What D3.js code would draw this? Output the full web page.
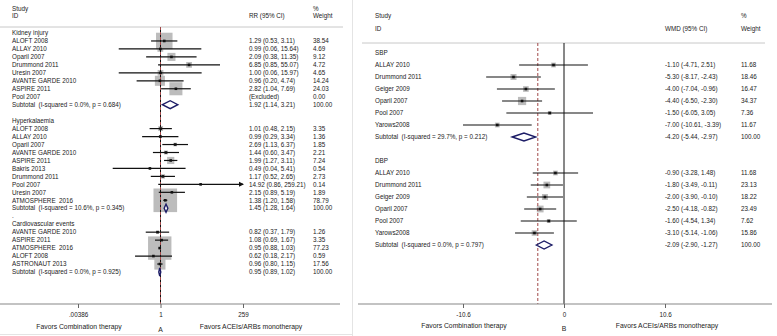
<!DOCTYPE html>
<html>
<head>
<meta charset="utf-8">
<script src="https://cdn.jsdelivr.net/npm/d3@7"></script>
<style>
body{margin:0;background:#fff}
text{font-family:"Liberation Sans",Arial,sans-serif;fill:#222;white-space:pre}
</style>
</head>
<body>
<svg id="chart" width="777" height="336"></svg>
<script>
// panel A : [study, RR, low, high, weight]
const kidneyRows = [
  ["ALOFT 2008", 1.29, 0.53, 3.11, 38.54],
  ["ALLAY 2010", 0.99, 0.06, 15.64, 4.69],
  ["Oparil 2007", 2.09, 0.38, 11.35, 9.12],
  ["Drummond 2011", 6.85, 0.85, 55.07, 4.72],
  ["Uresin 2007", 1.00, 0.06, 15.97, 4.65],
  ["AVANTE GARDE 2010", 0.96, 0.20, 4.74, 14.24],
  ["ASPIRE 2011", 2.82, 1.04, 7.69, 24.03],
  ["Pool 2007", null, null, null, 0]
]
const kidneySub = [1.92, 1.14, 3.21]
const kidneyHet = "(I-squared = 0.0%, p = 0.684)"

const hyperRows = [
  ["ALOFT 2008", 1.01, 0.48, 2.15, 3.35],
  ["ALLAY 2010", 0.99, 0.29, 3.34, 1.36],
  ["Oparil 2007", 2.69, 1.13, 6.37, 1.85],
  ["AVANTE GARDE 2010", 1.44, 0.60, 3.47, 2.21],
  ["ASPIRE 2011", 1.99, 1.27, 3.11, 7.24],
  ["Bakris 2013", 0.49, 0.04, 5.41, 0.54],
  ["Drummond 2011", 1.17, 0.52, 2.65, 2.73],
  ["Pool 2007", 14.92, 0.86, 259.21, 0.14],
  ["Uresin 2007", 2.15, 0.89, 5.19, 1.89],
  ["ATMOSPHERE  2016", 1.38, 1.20, 1.58, 78.79]
]
const hyperSub = [1.45, 1.28, 1.64]
const hyperHet = "(I-squared = 10.6%, p = 0.345)"

const cvRows = [
  ["AVANTE GARDE 2010", 0.82, 0.37, 1.79, 1.26],
  ["ASPIRE 2011", 1.08, 0.69, 1.67, 3.35],
  ["ATMOSPHERE  2016", 0.95, 0.88, 1.03, 77.23],
  ["ALOFT 2008", 0.62, 0.18, 2.17, 0.59],
  ["ASTRONAUT 2013", 0.96, 0.80, 1.15, 17.56]
]
const cvSub = [0.95, 0.89, 1.02]
const cvHet = "(I-squared = 0.0%, p = 0.925)"

const leftTicks = [0.00386, 1, 259]
const leftTickLabels = [".00386", "1", "259"]

// panel B : [study, WMD, low, high, weight]
const sbpRows = [
  ["ALLAY 2010", -1.10, -4.71, 2.51, 11.68],
  ["Drummond 2011", -5.30, -8.17, -2.43, 18.46],
  ["Geiger 2009", -4.00, -7.04, -0.96, 16.47],
  ["Oparil 2007", -4.40, -6.50, -2.30, 34.37],
  ["Pool 2007", -1.50, -6.05, 3.05, 7.36],
  ["Yarows2008", -7.00, -10.61, -3.39, 11.67]
]
const sbpSub = [-4.20, -5.44, -2.97]
const sbpHet = "(I-squared = 29.7%, p = 0.212)"

const dbpRows = [
  ["ALLAY 2010", -0.90, -3.28, 1.48, 11.68],
  ["Drummond 2011", -1.80, -3.49, -0.11, 23.13],
  ["Geiger 2009", -2.00, -3.90, -0.10, 18.22],
  ["Oparil 2007", -2.50, -4.18, -0.82, 23.49],
  ["Pool 2007", -1.60, -4.54, 1.34, 7.62],
  ["Yarows2008", -3.10, -5.14, -1.06, 15.86]
]
const dbpSub = [-2.09, -2.90, -1.27]
const dbpHet = "(I-squared = 0.0%, p = 0.797)"

const rightTicks = [-10.6, 0, 10.6]
const rightTickLabels = ["-10.6", "0", "10.6"]
const rightOverall = -2.75

const fs = 6.3
const svg = d3.select('#chart')

//turn the groups into one list of rows, top to bottom
function buildRows(groups){
  const out = []
  groups.forEach(g => {
    if (g.pre !== undefined) out.push({type:'label', label:g.pre})
    out.push({type:'label', label:g.title})
    g.rows.forEach(r => out.push({type:'study', label:r[0], est:r[1], lo:r[2], hi:r[3], w:r[4]}))
    out.push({type:'sub', label:'Subtotal  ' + g.het, est:g.sub[0], lo:g.sub[1], hi:g.sub[2], w:100})
  })
  return out
}

const fmtCI = r => r.est == null ? '(Excluded)'
  : `${r.est.toFixed(2)} (${r.lo.toFixed(2)}, ${r.hi.toFixed(2)})`

function drawPanel(p){
  const g = svg.append('g')
  const rows = p.rows.map((r, i) => ({...r, i}))
  const y = d3.scaleLinear().domain([0, rows.length - 1]).range(p.yRange)
  const x = p.x
  const [d0, d1] = x.domain()

  // header text
  const head = (tx, ty, t) => g.append('text').attr('x', tx).attr('y', ty + fs*0.35)
    .attr('font-size', fs).text(t)
  head(p.labelX, p.headY[0], 'Study')
  head(p.labelX, p.headY[1], 'ID')
  head(p.ciX, p.headY[1], p.ciTitle)
  head(p.wX, p.headY[0], '%')
  head(p.wX, p.headY[1], 'Weight')

  g.append('line').attr('x1', p.ruleX[0]).attr('x2', p.ruleX[1])
    .attr('y1', p.ruleY).attr('y2', p.ruleY)
    .attr('stroke', '#c8c8c8').attr('stroke-width', 1)

  const studies = rows.filter(r => r.type === 'study' && r.est != null)

  // weight boxes go under everything
  g.selectAll('rect.box').data(studies).join('rect')
    .attr('class', 'box')
    .attr('x', d => x(d.est) - p.k*Math.sqrt(d.w)/2)
    .attr('y', d => y(d.i) - p.k*Math.sqrt(d.w)/2)
    .attr('width', d => p.k*Math.sqrt(d.w))
    .attr('height', d => p.k*Math.sqrt(d.w))
    .attr('fill', '#bcbcbc')

  // null line and overall dashed line
  g.append('line').attr('x1', x(p.nullValue)).attr('x2', x(p.nullValue))
    .attr('y1', p.ruleY).attr('y2', p.axisY).attr('stroke', '#111').attr('stroke-width', 1)
  g.append('line').attr('x1', x(p.overall)).attr('x2', x(p.overall))
    .attr('y1', p.ruleY).attr('y2', p.axisY).attr('stroke', '#a04848')
    .attr('stroke-width', 1).attr('stroke-dasharray', '3,2')

  // CI lines, clipped to the axis range
  g.selectAll('line.ci').data(studies).join('line')
    .attr('class', 'ci')
    .attr('x1', d => x(Math.max(d.lo, d0)))
    .attr('x2', d => x(Math.min(d.hi, d1)))
    .attr('y1', d => y(d.i)).attr('y2', d => y(d.i))
    .attr('stroke', '#111').attr('stroke-width', 1.2)

  // arrow heads where the CI runs off the axis
  g.selectAll('path.arrow').data(studies.filter(d => d.hi > d1)).join('path')
    .attr('class', 'arrow')
    .attr('d', d => {
      const ax = x(d1), ay = y(d.i)
      return `M${ax+1},${ay} L${ax-4},${ay-2.5} L${ax-4},${ay+2.5} Z`
    })
    .attr('fill', '#111')

  g.selectAll('rect.pt').data(studies).join('rect')
    .attr('class', 'pt')
    .attr('x', d => x(d.est) - 1.3).attr('y', d => y(d.i) - 1.3)
    .attr('width', 2.6).attr('height', 2.6).attr('fill', '#111')

  // subtotal diamonds
  g.selectAll('path.dia').data(rows.filter(r => r.type === 'sub')).join('path')
    .attr('class', 'dia')
    .attr('d', d => {
      const yy = y(d.i)
      return `M${x(d.lo)},${yy} L${x(d.est)},${yy-4} L${x(d.hi)},${yy} L${x(d.est)},${yy+4} Z`
    })
    .attr('fill', '#fff').attr('stroke', '#1c1c66').attr('stroke-width', 1.4)

  // text columns
  g.selectAll('text.lab').data(rows).join('text')
    .attr('class', 'lab')
    .attr('x', p.labelX).attr('y', d => y(d.i) + fs*0.35)
    .attr('font-size', fs).text(d => d.label)
  const valued = rows.filter(r => r.type !== 'label')
  g.selectAll('text.ci').data(valued).join('text')
    .attr('class', 'ci')
    .attr('x', p.ciX).attr('y', d => y(d.i) + fs*0.35)
    .attr('font-size', fs).text(fmtCI)
  g.selectAll('text.w').data(valued).join('text')
    .attr('class', 'w')
    .attr('x', p.wX).attr('y', d => y(d.i) + fs*0.35)
    .attr('font-size', fs).text(d => d.w.toFixed(2))

  // x axis
  g.append('line').attr('x1', p.axisX[0]).attr('x2', p.axisX[1])
    .attr('y1', p.axisY).attr('y2', p.axisY)
    .attr('stroke', '#888').attr('stroke-width', 1.2)
  const axis = d3.axisBottom(x).tickValues(p.ticks)
    .tickFormat((d, i) => p.tickLabels[i]).tickSize(4).tickSizeOuter(0)
  const ag = g.append('g').attr('transform', `translate(0,${p.axisY})`).call(axis)
  ag.select('.domain').remove()
  ag.selectAll('line').attr('stroke', '#666')
  ag.selectAll('text').attr('font-size', fs).attr('y', 8.5)
    .style('font-family', '"Liberation Sans",Arial,sans-serif').attr('fill', '#222')

  const foot = (tx, ty, t, size) => g.append('text').attr('x', tx).attr('y', ty)
    .attr('text-anchor', 'middle').attr('font-size', size).text(t)
  foot(p.favL, p.favY, 'Favors Combination therapy', 6.8)
  foot(p.favR, p.favY, 'Favors ACEIs/ARBs monotherapy', 6.8)
  foot(x(p.nullValue), p.letterY, p.letter, 6.8)
}

// faint panel frames
svg.append('line').attr('x1', 352.5).attr('x2', 352.5).attr('y1', 0).attr('y2', 336)
  .attr('stroke', '#e4e4e4')
svg.append('line').attr('x1', 0).attr('x2', 352).attr('y1', 334.5).attr('y2', 334.5)
  .attr('stroke', '#e4e4e4')

const leftRowsAll = buildRows([
  {title:'Kidney injury', rows:kidneyRows, sub:kidneySub, het:kidneyHet},
  {pre:'', title:'Hyperkalaemia', rows:hyperRows, sub:hyperSub, het:hyperHet},
  {pre:'.', title:'Cardiovascular events', rows:cvRows, sub:cvSub, het:cvHet}
])

drawPanel({
  rows: leftRowsAll,
  yRange: [33, 272],
  x: d3.scaleLog().domain([0.00386, 259]).range([78, 243]),
  nullValue: 1, overall: 1,
  k: 2.66,
  labelX: 12, ciX: 249, wX: 313, ciTitle: 'RR (95% CI)',
  headY: [8.5, 15.5], ruleY: 27, ruleX: [0, 343],
  axisY: 304, axisX: [0, 340],
  ticks: leftTicks, tickLabels: leftTickLabels,
  favL: 79, favR: 251, favY: 328.5, letter: 'A', letterY: 331.5
})

const rightRowsAll = buildRows([
  {title:'SBP', rows:sbpRows, sub:sbpSub, het:sbpHet},
  {pre:'', title:'DBP', rows:dbpRows, sub:dbpSub, het:dbpHet}
])

drawPanel({
  rows: rightRowsAll,
  yRange: [53, 245],
  x: d3.scaleLinear().domain([-10.6, 10.6]).range([463, 665]),
  nullValue: 0, overall: rightOverall,
  k: 1.4,
  labelX: 375, ciX: 665, wX: 741, ciTitle: 'WMD (95% CI)',
  headY: [16, 29], ruleY: 43, ruleX: [362, 765],
  axisY: 304, axisX: [358, 772],
  ticks: rightTicks, tickLabels: rightTickLabels,
  favL: 464, favR: 667, favY: 327.5, letter: 'B', letterY: 330.5
})
</script>
</body>
</html>
